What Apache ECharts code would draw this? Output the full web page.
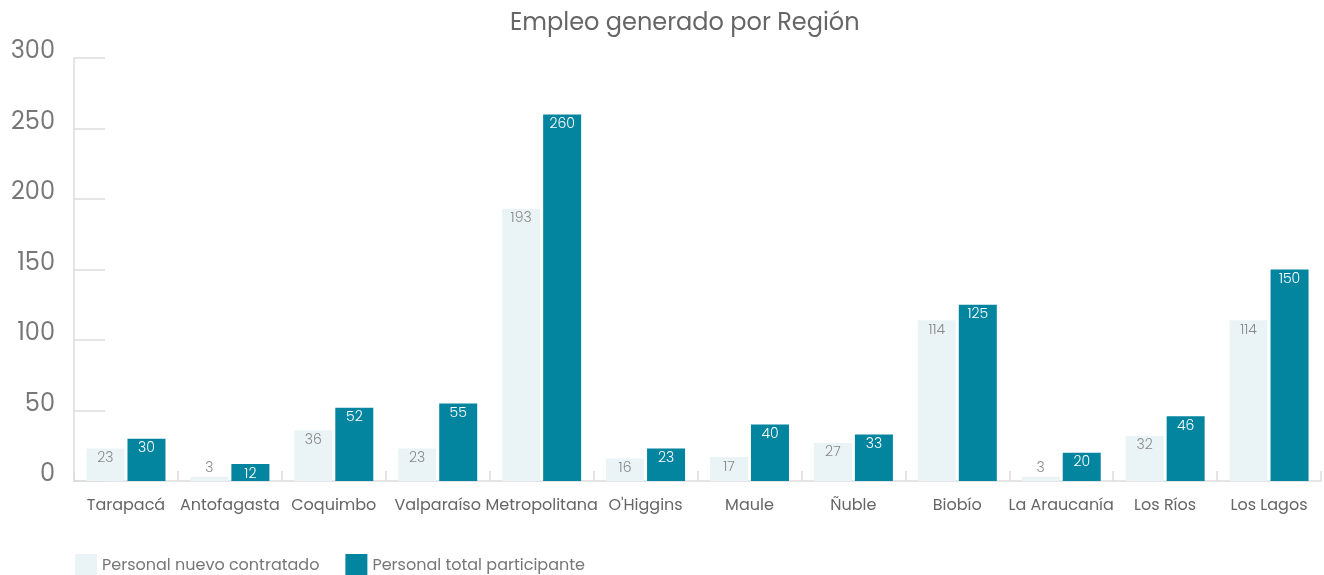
<!DOCTYPE html>
<html>
<head>
<meta charset="utf-8">
<script src="https://cdn.jsdelivr.net/npm/echarts@6/dist/echarts.min.js"></script>
<style>
  html, body { margin: 0; padding: 0; background: #fff; }
  #chart { width: 1324px; height: 575px; }
</style>
</head>
<body>
<div id="chart"></div>
<script>
// data
const regiones = ['Tarapacá', 'Antofagasta', 'Coquimbo', 'Valparaíso', 'Metropolitana', "O'Higgins",
  'Maule', 'Ñuble', 'Biobío', 'La Araucanía', 'Los Ríos', 'Los Lagos']
const nuevoContratado = [23, 3, 36, 23, 193, 16, 17, 27, 114, 3, 32, 114]
const totalParticipante = [30, 12, 52, 55, 260, 23, 40, 33, 125, 20, 46, 150]

const fontFamily = 'Poppins, Inter, sans-serif'

// tiny bars get their label above the bar
function withLabels (values) {
  return values.map(v => v < 8 ? { value: v, label: { position: 'top', distance: 1 } } : v)
}

const chart = echarts.init(document.getElementById('chart'))
chart.setOption({
  animation: false,
  textStyle: { fontFamily: fontFamily },
  title: {
    text: 'Empleo generado por Región',
    left: 505,
    top: 7,
    textStyle: { fontSize: 24, fontWeight: 'normal', color: '#666', fontFamily: fontFamily }
  },
  legend: {
    left: 70,
    top: 549,
    itemWidth: 22,
    itemHeight: 23,
    itemGap: 26,
    icon: 'rect',
    textStyle: { fontSize: 16, color: '#777', fontFamily: fontFamily }
  },
  grid: {
    left: 74,
    right: 3,
    top: 58,
    bottom: 94
  },
  xAxis: {
    type: 'category',
    data: regiones,
    axisLine: { lineStyle: { color: '#ddd', width: 1.5 } },
    axisTick: { show: true, inside: true, length: 10, lineStyle: { color: '#ddd', width: 1.5 } },
    axisLabel: { fontSize: 16, color: '#666', margin: 17, interval: 0 },
    splitLine: { show: false }
  },
  yAxis: {
    type: 'value',
    min: 0,
    max: 300,
    interval: 50,
    axisLine: { show: true, lineStyle: { color: '#ddd', width: 1.5 } },
    axisTick: { show: true, inside: true, length: 31, lineStyle: { color: '#ddd', width: 1.5 } },
    axisLabel: { fontSize: 24, color: '#777', margin: 19, verticalAlign: 'bottom', lineHeight: 12 },
    splitLine: { show: false }
  },
  series: [
    {
      name: 'Personal nuevo contratado',
      type: 'bar',
      barWidth: 38,
      barGap: '8%',
      itemStyle: { color: '#eaf4f7' },
      label: { show: true, position: 'insideTop', distance: 3, fontSize: 14, fontWeight: 300, color: '#888' },
      data: withLabels(nuevoContratado)
    },
    {
      name: 'Personal total participante',
      type: 'bar',
      barWidth: 38,
      barGap: '8%',
      itemStyle: { color: '#03849f' },
      label: { show: true, position: 'insideTop', distance: 3, fontSize: 14, fontWeight: 300, color: '#fff' },
      data: withLabels(totalParticipante)
    }
  ]
})
</script>
</body>
</html>
